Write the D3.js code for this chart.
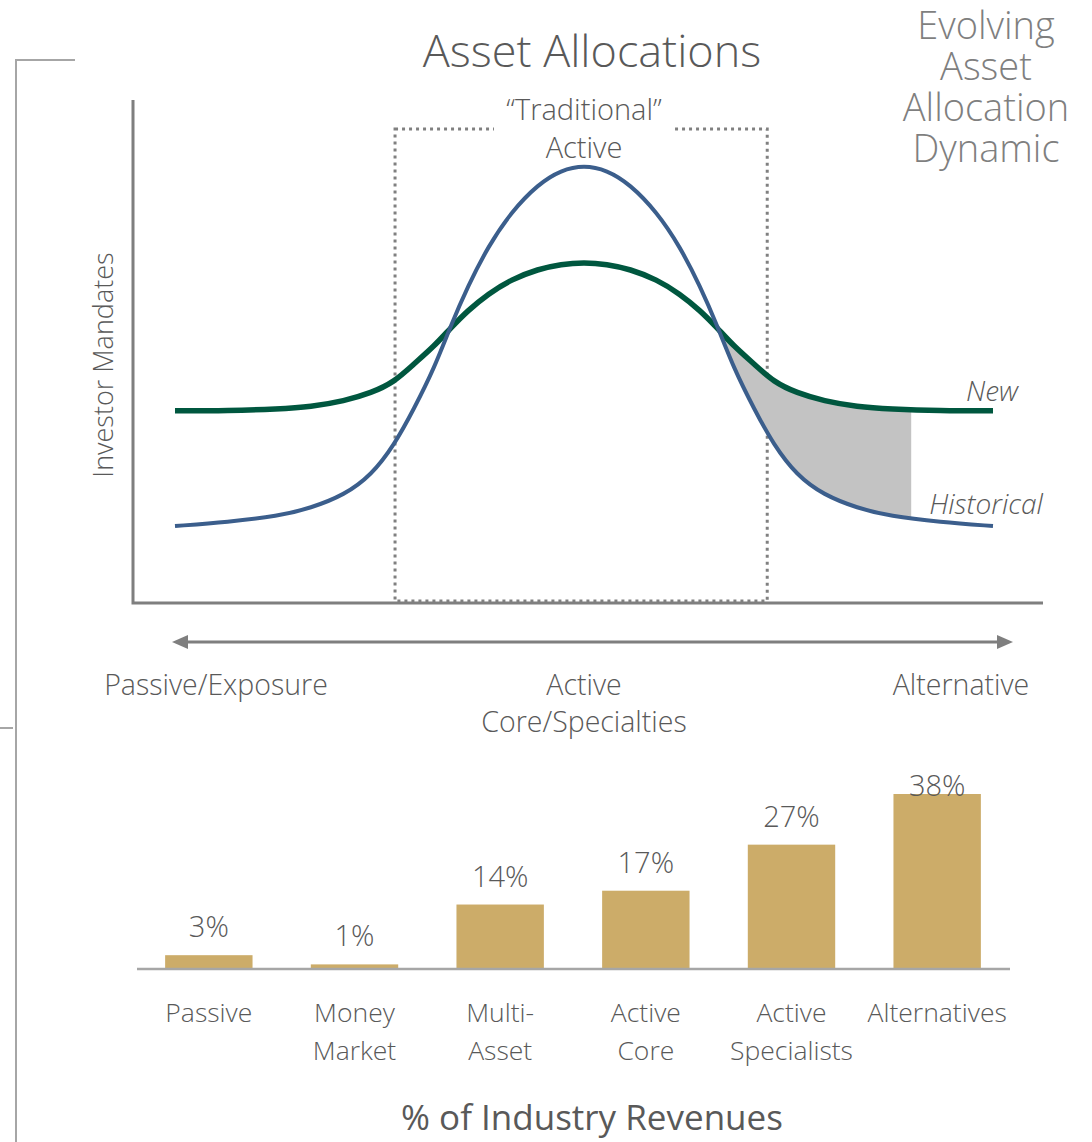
<!DOCTYPE html>
<html>
<head>
<meta charset="utf-8">
<script src="https://cdn.jsdelivr.net/npm/d3@7"></script>
<style>
  body { margin: 0; background: #fff; }
  svg text { font-family: "Open Sans", "Noto Sans", sans-serif; font-weight: 300; fill: #595959; }
</style>
</head>
<body>
<div id="chart"></div>
<script>
// curve data: position along the spectrum (0 = passive, 100 = alternative), height in mandate units
const spectrumX = [0, 6.5, 12.6, 16.6, 20.7, 24, 26.8, 29.2, 31.7, 33.7, 35.8, 38.3, 41.1, 44.4, 47.2, 50,
  52.8, 55.6, 58.9, 61.7, 64.2, 66.3, 68.3, 70.8, 73.2, 76, 79.3, 83.4, 87.4, 93.5, 100];
const historical = [17.1, 18.0, 19.3, 21.1, 24.0, 28.4, 35.1, 43.1, 52.2, 61.6, 70.4, 79.3, 86.9, 93.1, 96.2, 97.3,
  96.2, 93.1, 86.9, 79.3, 70.4, 61.6, 52.2, 43.1, 35.1, 28.4, 24.0, 21.1, 19.3, 18.0, 17.1];
const newMandates = [42.7, 42.7, 43.1, 43.6, 44.9, 46.7, 49.1, 53.1, 57.1, 61.1, 65.0, 68.7, 71.9, 74.2, 75.3, 75.7,
  75.3, 74.2, 71.9, 68.7, 65.0, 61.1, 57.1, 53.1, 49.1, 46.7, 44.9, 43.6, 43.1, 42.7, 42.7];
const shadeRange = [66.3, 90];
const traditionalBox = [26.9, 72.4];

// bar data
const categories = [["Passive"], ["Money", "Market"], ["Multi-", "Asset"], ["Active", "Core"], ["Active", "Specialists"], ["Alternatives"]];
const revenueShare = [3, 1, 14, 17, 27, 38];

const W = 1092, H = 1142;
const svg = d3.select("#chart").append("svg").attr("width", W).attr("height", H);

// bracket on the left
const grey = "#a6a6a6";
svg.append("path").attr("d", "M75,60 H16 V1142").attr("fill", "none").attr("stroke", grey).attr("stroke-width", 2);
svg.append("line").attr("x1", 0).attr("x2", 13).attr("y1", 728).attr("y2", 728).attr("stroke", grey).attr("stroke-width", 2);

// titles
svg.append("text").attr("x", 592).attr("y", 67).attr("text-anchor", "middle").attr("font-size", 45).text("Asset Allocations");
svg.append("text").attr("text-anchor", "middle").attr("font-size", 38).style("fill", "#7f7f7f")
  .selectAll("tspan").data(["Evolving", "Asset", "Allocation", "Dynamic"]).join("tspan")
  .attr("x", 986).attr("y", (d, i) => 39 + i * 41).text(d => d);

// upper chart scales
const x = d3.scaleLinear().domain([0, 100]).range([175, 993]);
const y = d3.scaleLinear().domain([0, 100]).range([603, 153]);

// dotted "traditional active" box
svg.append("rect")
  .attr("x", x(traditionalBox[0])).attr("y", 129)
  .attr("width", x(traditionalBox[1]) - x(traditionalBox[0])).attr("height", 601 - 129)
  .attr("fill", "none").attr("stroke", "#808080").attr("stroke-width", 3).attr("stroke-dasharray", "3,4");
svg.append("rect").attr("x", 494).attr("y", 118).attr("width", 178).attr("height", 20).attr("fill", "#fff");
svg.append("text").attr("text-anchor", "middle").attr("font-size", 29)
  .selectAll("tspan").data(["\u201CTraditional\u201D", "Active"]).join("tspan")
  .attr("x", x(50)).attr("y", (d, i) => 120 + i * 38).text(d => d);

// shaded gap between the two curves
const pts = spectrumX.map((p, i) => ({ p, h: historical[i], n: newMandates[i] }));
const curve = d3.curveBasis;
svg.append("clipPath").attr("id", "shade-clip").append("rect")
  .attr("x", x(shadeRange[0])).attr("y", 0)
  .attr("width", x(shadeRange[1]) - x(shadeRange[0])).attr("height", H);
svg.append("path").datum(pts)
  .attr("clip-path", "url(#shade-clip)")
  .attr("d", d3.area().x(d => x(d.p)).y0(d => y(d.h)).y1(d => y(d.n)).curve(curve))
  .attr("fill", "#c3c3c3");

// curves
const line = key => d3.line().x(d => x(d.p)).y(d => y(d[key])).curve(curve);
svg.append("path").datum(pts).attr("d", line("n")).attr("fill", "none").attr("stroke", "#00573f").attr("stroke-width", 5.5);
svg.append("path").datum(pts).attr("d", line("h")).attr("fill", "none").attr("stroke", "#3b5e8c").attr("stroke-width", 4);

svg.append("text").attr("x", 992).attr("y", 401).attr("text-anchor", "middle").attr("font-size", 28).attr("font-style", "italic").text("New");
svg.append("text").attr("x", 986).attr("y", 514).attr("text-anchor", "middle").attr("font-size", 28).attr("font-style", "italic").text("Historical");

// axes
const axisCol = "#7f7f7f";
svg.append("path").attr("d", "M133,100 V603 H1043").attr("fill", "none").attr("stroke", axisCol).attr("stroke-width", 3);
svg.append("text").attr("transform", "translate(113,365) rotate(-90)").attr("text-anchor", "middle").attr("font-size", 27).text("Investor Mandates");

// double arrow
svg.append("line").attr("x1", 185).attr("x2", 1000).attr("y1", 642).attr("y2", 642).attr("stroke", axisCol).attr("stroke-width", 3);
svg.append("path").attr("d", "M172,642 L188,635 L188,649 Z").attr("fill", axisCol);
svg.append("path").attr("d", "M1013,642 L997,635 L997,649 Z").attr("fill", axisCol);

const spectrumLabels = [
  { cx: 216, lines: ["Passive/Exposure"] },
  { cx: x(50), lines: ["Active", "Core/Specialties"] },
  { cx: 961, lines: ["Alternative"] }
];
svg.append("g").selectAll("text").data(spectrumLabels).join("text")
  .attr("text-anchor", "middle").attr("font-size", 28.5)
  .each(function (d) {
    d3.select(this).selectAll("tspan").data(d.lines).join("tspan")
      .attr("x", d.cx).attr("y", (t, i) => 695 + i * 37).text(t => t);
  });

// bar chart
const bx = d3.scaleBand().domain(categories.map(c => c.join(" "))).range([136, 1010]).paddingInner(0.4).paddingOuter(0.2);
const by = d3.scaleLinear().domain([0, 38]).range([969, 794]);
const bars = svg.append("g");
bars.selectAll("rect").data(revenueShare).join("rect")
  .attr("x", (d, i) => bx(categories[i].join(" ")))
  .attr("y", d => by(d))
  .attr("width", bx.bandwidth())
  .attr("height", d => by(0) - by(d))
  .attr("fill", "#ccac69");
svg.append("line").attr("x1", 137).attr("x2", 1010).attr("y1", 969).attr("y2", 969).attr("stroke", grey).attr("stroke-width", 2.5);

bars.selectAll("text.val").data(revenueShare).join("text").attr("class", "val")
  .attr("x", (d, i) => bx(categories[i].join(" ")) + bx.bandwidth() / 2)
  .attr("y", d => Math.max(by(d) - 18, 796))
  .attr("text-anchor", "middle").attr("font-size", 29)
  .text(d => d + "%");

bars.selectAll("text.cat").data(categories).join("text").attr("class", "cat")
  .attr("text-anchor", "middle").attr("font-size", 26.5)
  .each(function (d) {
    const cx = bx(d.join(" ")) + bx.bandwidth() / 2;
    d3.select(this).selectAll("tspan").data(d).join("tspan")
      .attr("x", cx).attr("y", (t, i) => 1022 + i * 38).text(t => t);
  });

svg.append("text").attr("x", 592).attr("y", 1130).attr("text-anchor", "middle").attr("font-size", 35)
  .style("font-weight", 400).text("% of Industry Revenues");
</script>
</body>
</html>
